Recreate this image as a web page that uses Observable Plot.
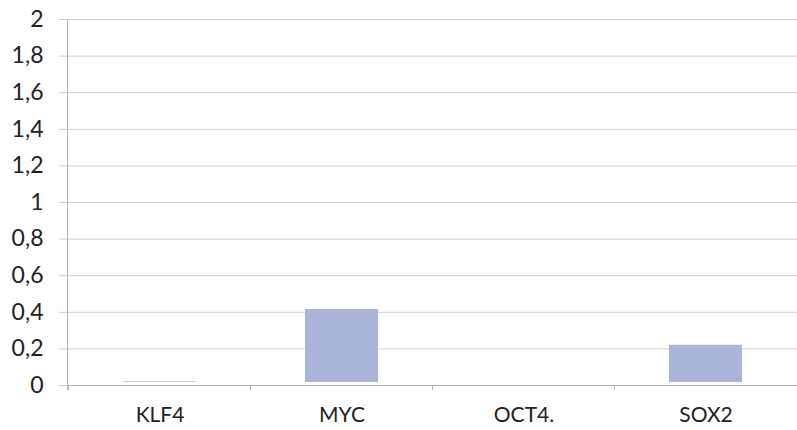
<!DOCTYPE html>
<html>
<head>
<meta charset="utf-8">
<script src="https://cdn.jsdelivr.net/npm/d3@7"></script>
<script src="https://cdn.jsdelivr.net/npm/@observablehq/plot@0.6"></script>
<style>
  html, body { margin: 0; padding: 0; background: #fff; overflow: hidden; }
  svg { display: block; }
  #chart svg text { font-family: Lato, "Open Sans", sans-serif; }
</style>
</head>
<body>
<div id="chart"></div>
<script>
const categories = ["KLF4", "MYC", "OCT4.", "SOX2"];
const values = [0.02, 0.415, 0, 0.22];
const yTicks = [0, 0.2, 0.4, 0.6, 0.8, 1, 1.2, 1.4, 1.6, 1.8, 2];

const data = categories.map((c, i) => ({cat: c, value: values[i]}));
const fmt = d => String(d).replace(".", ",");
const padIn = 0.6;

const boundaryTicks = (index, scales, values, dims) => {
  const g = d3.create("svg:g");
  const step = scales.x(categories[1]) - scales.x(categories[0]);
  const y0 = dims.height - dims.marginBottom;
  for (const c of categories) {
    const xs = Math.round(scales.x(c) - step * padIn / 2) + 0.5;
    g.append("line").attr("x1", xs).attr("x2", xs).attr("y1", y0).attr("y2", y0 + 5)
      .attr("stroke", "#b5b5b5").attr("stroke-width", 1);
  }
  return g.node();
};

const chart = Plot.plot({
  width: 797,
  height: 430,
  marginTop: 19,
  marginBottom: 45,
  marginLeft: 67,
  marginRight: 0,
  style: {fontFamily: "Lato, 'Open Sans', sans-serif", color: "#222", background: "#fff"},
  x: {domain: categories, paddingInner: padIn, paddingOuter: padIn / 2, label: null},
  y: {domain: [0, 2], label: null},
  marks: [
    Plot.ruleY(yTicks, {y: d => d, stroke: "#cfcfcf", strokeWidth: 1}),
    Plot.ruleY([0], {stroke: "#b5b5b5", strokeWidth: 1}),
    Plot.barY(data, {x: "cat", y: "value", fill: "#abb4d9", insetBottom: 3}),
    Plot.axisY(yTicks, {
      tickFormat: fmt, tickSize: 8, tickPadding: 16, stroke: "#cfcfcf",
      fill: "#222", label: null, fontSize: 23
    }),
    Plot.axisX({tickSize: 0, tickPadding: 22, fill: "#222", label: null, fontSize: 21}),
    boundaryTicks,
    () => {
      const g = d3.create("svg:g");
      g.append("line").attr("x1", 67.5).attr("x2", 67.5).attr("y1", 19).attr("y2", 390)
        .attr("stroke", "#b5b5b5");
      return g.node();
    }
  ]
});

document.getElementById("chart").appendChild(chart);
</script>
</body>
</html>
